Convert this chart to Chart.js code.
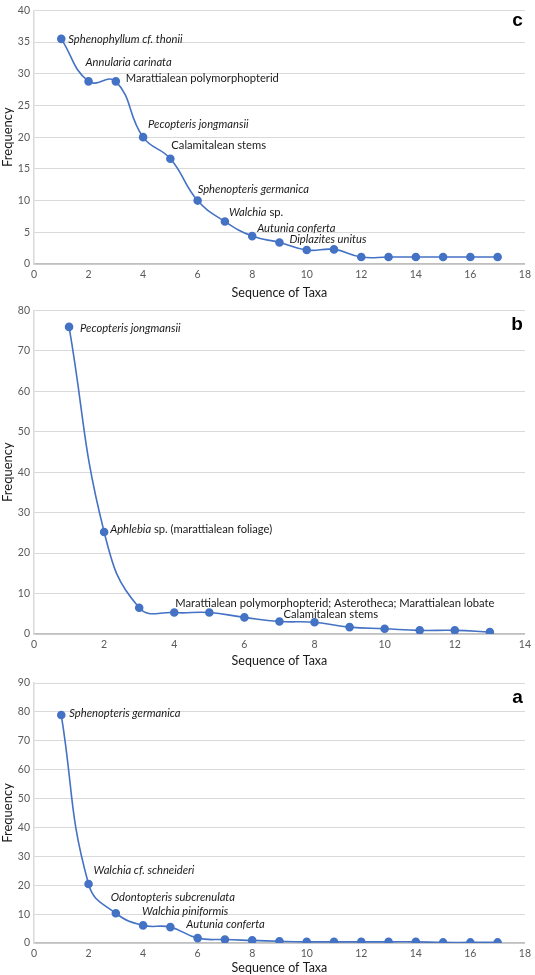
<!DOCTYPE html>
<html>
<head>
<meta charset="utf-8">
<script src="https://cdn.jsdelivr.net/npm/chart.js@4"></script>
<style>
  html, body { margin: 0; padding: 0; background: #fff; }
  body { width: 535px; height: 975px; position: relative; overflow: hidden; }
  .panel { position: absolute; left: 0; width: 535px; }
  #panelC { top: 0; height: 300px; }
  #panelB { top: 300px; height: 368px; }
  #panelA { top: 668px; height: 307px; }
</style>
</head>
<body>
<div class="panel" id="panelC"><canvas id="chartC"></canvas></div>
<div class="panel" id="panelB"><canvas id="chartB"></canvas></div>
<div class="panel" id="panelA"><canvas id="chartA"></canvas></div>
<script>
// ---- data ----
// panel c
const seqC = [1, 2, 3, 4, 5, 6, 7, 8, 9, 10, 11, 12, 13, 14, 15, 16, 17];
const freqC = [35.5, 28.8, 28.8, 20.0, 16.6, 10.0, 6.7, 4.4, 3.4, 2.2, 2.3, 1.1, 1.1, 1.1, 1.1, 1.1, 1.1];
const ticksC = { max: 40, step: 5, xMax: 18 };
// label text per point index; segments are [text, italic]
const namesC = [
  [0, [['Sphenophyllum cf. thonii', true]]],
  [1, [['Annularia carinata', true]]],
  [2, [['Marattialean polymorphopterid', false]]],
  [3, [['Pecopteris jongmansii', true]]],
  [4, [['Calamitalean stems', false]]],
  [5, [['Sphenopteris germanica', true]]],
  [6, [['Walchia', true], [' sp.', false]]],
  [7, [['Autunia conferta', true]]],
  [8, [['Diplazites unitus', true]]]
];

// panel b
const seqB = [1, 2, 3, 4, 5, 6, 7, 8, 9, 10, 11, 12, 13];
const freqB = [75.9, 25.2, 6.5, 5.3, 5.3, 4.1, 3.1, 2.9, 1.7, 1.3, 0.9, 0.9, 0.5];
const ticksB = { max: 80, step: 10, xMax: 14 };
const namesB = [
  [0, [['Pecopteris jongmansii', true]]],
  [1, [['Aphlebia', true], [' sp. (marattialean foliage)', false]]],
  [3, [['Marattialean polymorphopterid; Asterotheca; Marattialean lobate', false]]],
  [6, [['Calamitalean stems', false]]]
];

// panel a
const seqA = [1, 2, 3, 4, 5, 6, 7, 8, 9, 10, 11, 12, 13, 14, 15, 16, 17];
const freqA = [78.9, 20.4, 10.3, 6.1, 5.5, 1.7, 1.2, 0.9, 0.6, 0.4, 0.4, 0.4, 0.4, 0.4, 0.2, 0.2, 0.2];
const ticksA = { max: 90, step: 10, xMax: 18 };
const namesA = [
  [0, [['Sphenopteris germanica', true]]],
  [1, [['Walchia cf. schneideri', true]]],
  [2, [['Odontopteris subcrenulata', true]]],
  [3, [['Walchia piniformis', true]]],
  [4, [['Autunia conferta', true]]]
];

// ---- label placement (offsets from the point, px) ----
const offsetsC = [[7, 1], [-3, -19], [10, -3], [5, -13], [1, -13], [0, -11], [4, -9], [5, -8], [10, -3]];
const offsetsB = [[11, 1], [6, -3], [1, -9], [4, -7]];
const offsetsA = [[8, -2], [5, -14], [-5, -16], [-1, -14], [16, -3]];

const BLUE = '#4472C4';
const FONT = 'Lato, "Open Sans", sans-serif';
const GRID = '#d9d9d9';
const AXIS = '#bfbfbf';
const TICK_COLOR = '#595959';

const pointLabels = {
  id: 'pointLabels',
  afterDatasetsDraw(chart, args, opts) {
    const ctx = chart.ctx;
    const pts = chart.getDatasetMeta(0).data;
    ctx.save();
    ctx.fillStyle = '#1a1a1a';
    ctx.textBaseline = 'middle';
    ctx.textAlign = 'left';
    opts.names.forEach((entry, k) => {
      const p = pts[entry[0]];
      let x = p.x + opts.offsets[k][0];
      const y = p.y + opts.offsets[k][1];
      entry[1].forEach(seg => {
        ctx.font = (seg[1] ? 'italic ' : '') + '11.2px ' + FONT;
        ctx.fillText(seg[0], x, y);
        x += ctx.measureText(seg[0]).width;
      });
    });
    // panel letter
    ctx.font = 'bold 19px "Liberation Sans", Arial, sans-serif';
    ctx.textAlign = 'right';
    ctx.fillStyle = '#000';
    ctx.fillText(opts.letter, chart.chartArea.right - 2, chart.chartArea.top + opts.letterDy);
    ctx.restore();
  }
};

function makeChart(id, seq, freq, tk, names, offsets, letter, letterDy, padTop, xAxisH) {
  const pts = seq.map((s, i) => ({ x: s, y: freq[i] }));
  return new Chart(document.getElementById(id), {
    type: 'scatter',
    data: {
      datasets: [{
        data: pts,
        showLine: true,
        borderColor: BLUE,
        backgroundColor: BLUE,
        borderWidth: 1.6,
        pointRadius: 3.5,
        pointHoverRadius: 3.5,
        tension: 0.45
      }]
    },
    options: {
      responsive: true,
      maintainAspectRatio: false,
      animation: false,
      layout: { padding: { top: padTop, right: 10, left: 0, bottom: 0 } },
      plugins: {
        legend: { display: false },
        tooltip: { enabled: false },
        pointLabels: { names: names, offsets: offsets, letter: letter, letterDy: letterDy }
      },
      scales: {
        x: {
          type: 'linear',
          min: 0,
          max: tk.xMax,
          afterFit: s => { s.height = xAxisH; },
          grid: { display: false, drawTicks: false },
          border: { color: AXIS, width: 1.5 },
          ticks: { stepSize: 2, padding: 4, color: TICK_COLOR, font: { family: FONT, size: 10.5 }, maxRotation: 0 },
          title: { display: true, text: 'Sequence of Taxa', color: '#1a1a1a', font: { family: FONT, size: 12.5 }, padding: { top: 1, bottom: 0 } }
        },
        y: {
          min: 0,
          max: tk.max,
          afterFit: s => { s.width = 34; },
          grid: { color: GRID, lineWidth: 1, drawTicks: false },
          border: { color: GRID, width: 1.5 },
          ticks: { stepSize: tk.step, padding: 4, color: TICK_COLOR, font: { family: FONT, size: 10.5 } },
          title: { display: true, text: 'Frequency', color: '#1a1a1a', font: { family: FONT, size: 13 }, padding: { top: 0, bottom: 0 } }
        }
      }
    },
    plugins: [pointLabels]
  });
}

makeChart('chartC', seqC, freqC, ticksC, namesC, offsetsC, 'c', 10, 7, 36);
makeChart('chartB', seqB, freqB, ticksB, namesB, offsetsB, 'b', 14, 9, 34);
makeChart('chartA', seqA, freqA, ticksA, namesA, offsetsA, 'a', 15, 15, 32);
</script>
</body>
</html>
